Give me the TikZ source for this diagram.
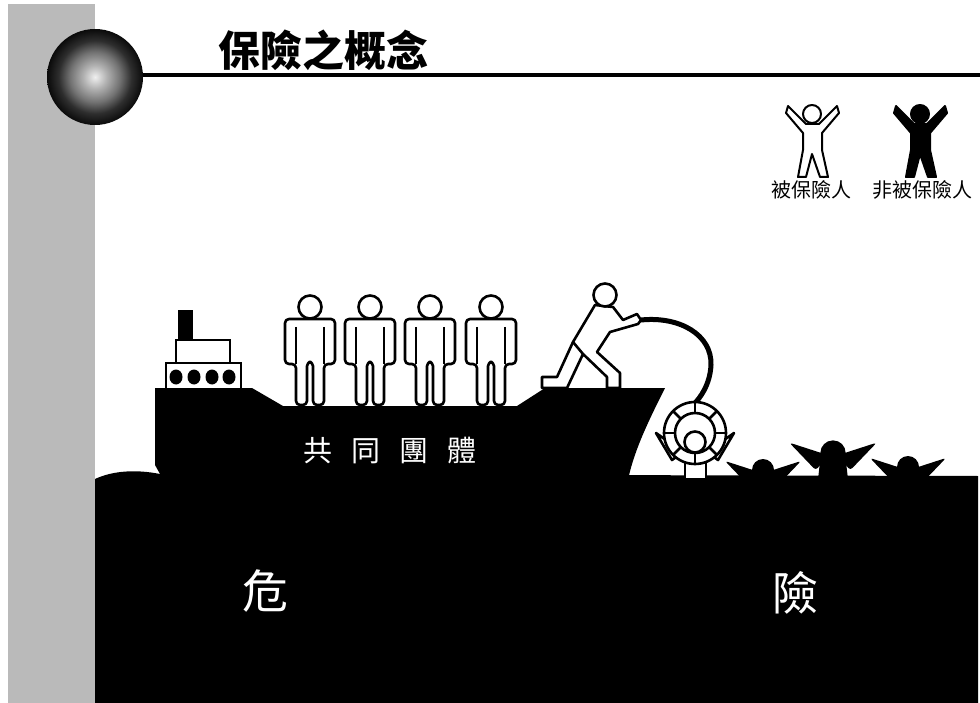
\documentclass[tikz,border=0pt]{standalone}
\usepackage{fontspec}
\usepackage{tikz}
\newfontfamily\cjk{Noto Sans CJK TC}
\pgfdeclareradialshading{orb}{\pgfpoint{0bp}{0bp}}{color(0bp)=(black!6); color(6bp)=(black!30); color(13bp)=(black!55); color(19bp)=(black!82); color(25bp)=(black!96); color(50bp)=(black)}

\begin{document}
\begin{tikzpicture}[x=1pt,y=-1pt,
    hollow/.style={draw=black,fill=white,line width=2.6pt,line join=round},
    solid/.style={draw=black,fill=black,line width=2pt,line join=round},
    cabin/.style={draw=black,fill=white,line width=2pt}]
  \useasboundingbox (0,0) rectangle (980,703);
  \fill[white] (0,0) rectangle (980,703);
  % side band, ball and title rule
  \fill[black!27] (8,4) rectangle (95,703);
  \draw[line width=4.5pt] (140,75) -- (980,75);
  \shade[shading=orb] (95,77) circle[radius=48];
  \node (title) at (323,50) {\cjk\bfseries\fontsize{42}{46}\selectfont 保險之概念};

  % legend
  \foreach \dx/\look in {0/hollow,108/solid} {
    \begin{scope}[shift={(\dx,0)}]
      \draw[\look,line width=2pt] (798,177) -- (803,150) -- (803,133) -- (786,113) -- (788,106) -- (806,124) -- (819,124) -- (837,106) -- (839,113) -- (822,133) -- (822,150) -- (828,177) -- (820,177) -- (812,154) -- (806,177) -- cycle;
      \draw[\look,line width=2pt] (812,114) circle[radius=9];
    \end{scope}
  }
  \node[font=\cjk\fontsize{20}{22}\selectfont] (insured) at (811,190) {被保險人};
  \node[font=\cjk\fontsize{20}{22}\selectfont] (uninsured) at (922,190) {非被保險人};

  % sea
  \fill (95,703) -- (95,479) .. controls (112,471) and (135,469) .. (160,474) -- (978,476) -- (978,703) -- cycle;

  % ship
  \fill (155,388) -- (252,388) -- (283,406) -- (517,406) -- (545,388) -- (665,388) .. controls (650,418) and (634,450) .. (628,480) -- (160,480) -- (160,474) -- (155,465) -- cycle;
  \fill (178,310) rectangle (193,341);
  \draw[cabin] (176,340) rectangle (230,363);
  \draw[cabin] (166,363) rectangle (241,389);
  \foreach \x in {176,194,212,229}
    \fill (\x,377) ellipse[x radius=6.5,y radius=7.5];
  \node[text=white,font=\cjk\fontsize{29}{32}\selectfont] (group) at (390,451) {共\hspace{19pt}同\hspace{19pt}團\hspace{19pt}體};

  % crew on deck
  \foreach \c in {310,370,430,491} {
    \begin{scope}[shift={(\c,0)}]
      \draw[hollow,rounded corners=4pt] (-3,405) -- (-3,362) -- (3,362) -- (3,405) -- (14,405) -- (14,364) -- (25,364) -- (25,319) -- (-25,319) -- (-25,364) -- (-14,364) -- (-14,405) -- cycle;
      \draw[line width=2.6pt] (-14,327) -- (-14,364) (14,327) -- (14,364);
      \draw[hollow] (0,307) circle[radius=11.5];
    \end{scope}
  }

  % man throwing the buoy
  \draw[hollow] (542,388) -- (542,377) -- (557,377) -- (573,342) -- (595,305) -- (613,307) -- (623,320) -- (637,314) -- (641,320) -- (638,324) -- (610,332) -- (597,352) -- (620,373) -- (620,388) -- (607,388) -- (607,377) -- (583,354) -- (567,388) -- cycle;
  \draw[line width=2.6pt] (573,342) -- (583,354);
  \draw[hollow] (605,295) circle[radius=11.5];
  \coordinate (hand) at (641,320);
  \coordinate (buoy top) at (694,404);
  \draw[line width=5pt] (hand) .. controls (680,316) and (712,335) .. (711,365) .. controls (710,385) and (700,398) .. (buoy top);

  % swimmer in the buoy
  \draw[hollow] (685,478) -- (685,455) -- (706,455) -- (706,478);
  \draw[hollow] (672,460) -- (656,433) -- (683,452) -- cycle;
  \draw[hollow] (718,460) -- (734,433) -- (707,452) -- cycle;
  \draw[hollow] (695,433) circle[radius=31];
  \draw[hollow] (695,433) circle[radius=20];
  \foreach \a in {0,45,...,315}
    \draw[line width=2.6pt] (695,433) ++(\a:20) -- ++(\a:11);
  \draw[hollow] (695,442) circle[radius=10.5];

  % people in the water
  \foreach \hx/\hy/\s in {763/470/1, 833/453/1.15, 908/467/1} {
    \begin{scope}[shift={(\hx,\hy)},scale=\s]
      \fill (0,0) circle[radius=11];
      \fill[rounded corners=3pt] (-4,2) -- (-38,-9) -- (-15,15) -- cycle;
      \fill[rounded corners=3pt] (4,2) -- (38,-9) -- (15,15) -- cycle;
      \fill (-11,5) -- (11,5) -- (15,40) -- (-15,40) -- cycle;
    \end{scope}
  }

  \node[text=white,font=\cjk\fontsize{46}{50}\selectfont] (danger) at (265,591) {危};
  \node[text=white,font=\cjk\fontsize{46}{50}\selectfont] (risk) at (795,593) {險};
\end{tikzpicture}
\end{document}
